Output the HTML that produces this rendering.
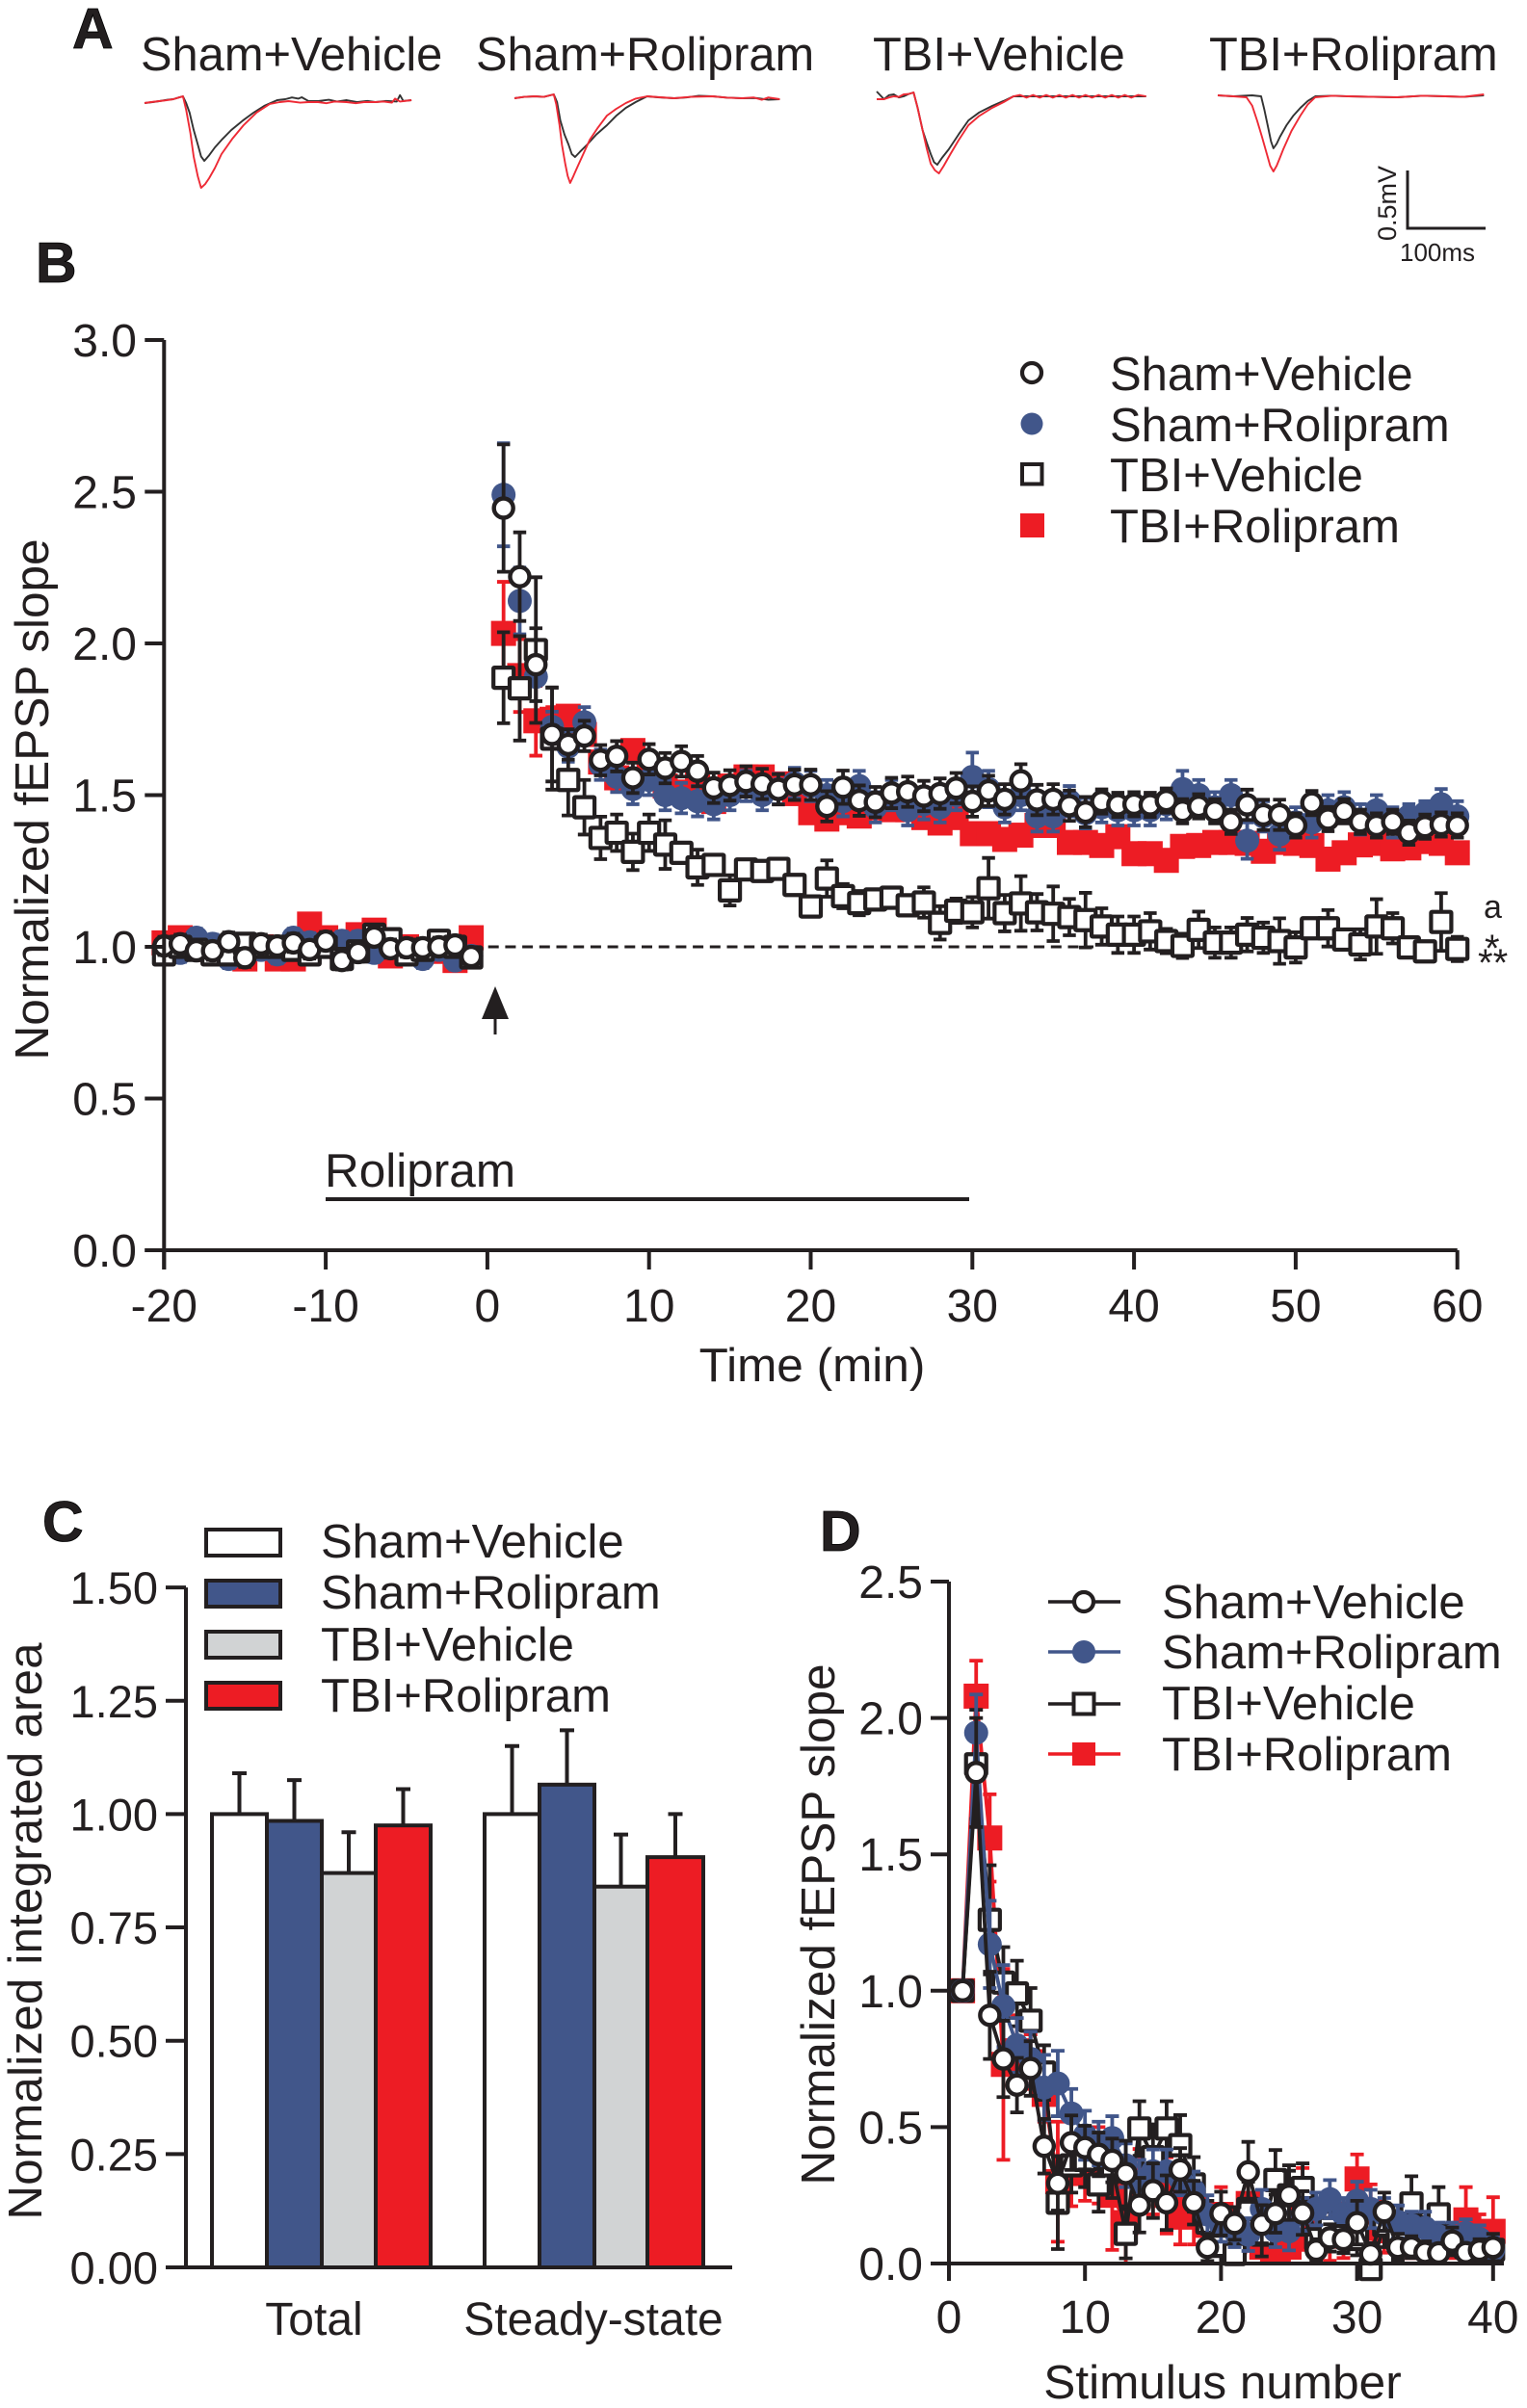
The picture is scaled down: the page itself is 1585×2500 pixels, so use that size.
<!DOCTYPE html>
<html lang="en">
<head>
<meta charset="utf-8">
<title>Rolipram effect on fEPSP slope</title>
<style>
html,body{margin:0;padding:0;background:#fff;}
svg{display:block;}
text{font-family:"Liberation Sans",Arial,sans-serif;fill:#231f20;}
</style>
</head>
<body>
<svg id="figure" xmlns="http://www.w3.org/2000/svg" width="1585" height="2500" viewBox="0 0 1585 2500">
<rect width="1585" height="2500" fill="#fff"/>

<g id="panel-a">
<text x="75" y="50" font-size="59" font-weight="bold" stroke="#000" stroke-width="0.8">A</text>
<text x="146" y="73" font-size="48.8">Sham+Vehicle</text>
<text x="494" y="73" font-size="48.8">Sham+Rolipram</text>
<text x="906" y="73" font-size="48.8">TBI+Vehicle</text>
<text x="1255" y="73" font-size="48.8">TBI+Rolipram</text>
<path d="M1461 177V237H1542" fill="none" stroke="#231f20" stroke-width="3"/>
<text transform="translate(1449,250) rotate(-90)" font-size="27">0.5mV</text>
<text x="1453" y="271" font-size="26">100ms</text>
</g>

<g id="panel-b">
<text x="37" y="293" font-size="59" font-weight="bold" stroke="#000" stroke-width="0.8">B</text>
<text transform="translate(50,830) rotate(-90)" text-anchor="middle" font-size="49.5">Normalized fEPSP slope</text>
<text x="843" y="1434" text-anchor="middle" font-size="49.5">Time (min)</text>
<line x1="489" y1="983" x2="1135" y2="983" stroke="#231f20" stroke-width="3" stroke-dasharray="11 6.7"/>
<polygon points="514,1024 528,1058 500,1058" fill="#231f20"/>
<line x1="514" y1="1056" x2="514" y2="1074" stroke="#231f20" stroke-width="3"/>
<text x="337" y="1232" font-size="49.5">Rolipram</text>
<line x1="338" y1="1245" x2="1006" y2="1245" stroke="#231f20" stroke-width="4"/>
<text x="1540" y="953" font-size="34">a</text>
<text x="1541" y="998" font-size="40">*</text>
<text x="1534" y="1013" font-size="40">**</text>
<circle cx="1071" cy="387" r="10" fill="#fff" stroke="#231f20" stroke-width="4.2"/>
<circle cx="1071" cy="440" r="11.5" fill="#41568a"/>
<rect x="1061" y="482" width="20.5" height="20.5" fill="#fff" stroke="#231f20" stroke-width="4"/>
<rect x="1059" y="533" width="25" height="25" fill="#ed1c24"/>
<text x="1152" y="405" font-size="49">Sham+Vehicle</text>
<text x="1152" y="458" font-size="49">Sham+Rolipram</text>
<text x="1152" y="510" font-size="49">TBI+Vehicle</text>
<text x="1152" y="563" font-size="49">TBI+Rolipram</text>
</g>

<g id="panel-c">
<text x="44" y="1600" font-size="59" font-weight="bold" stroke="#000" stroke-width="0.8">C</text>
<text transform="translate(43,2005) rotate(-90)" text-anchor="middle" font-size="49" textLength="599">Normalized integrated area</text>
<rect x="214" y="1588" width="77" height="27" fill="#fff" stroke="#231f20" stroke-width="4"/>
<rect x="214" y="1641" width="77" height="27" fill="#41568a" stroke="#231f20" stroke-width="4"/>
<rect x="214" y="1694" width="77" height="27" fill="#d1d3d4" stroke="#231f20" stroke-width="4"/>
<rect x="214" y="1747" width="77" height="27" fill="#ed1c24" stroke="#231f20" stroke-width="4"/>
<text x="333" y="1617" font-size="49">Sham+Vehicle</text>
<text x="333" y="1670" font-size="49">Sham+Rolipram</text>
<text x="333" y="1724" font-size="49">TBI+Vehicle</text>
<text x="333" y="1777" font-size="49">TBI+Rolipram</text>
</g>

<g id="panel-d">
<text x="851" y="1610" font-size="59" font-weight="bold" stroke="#000" stroke-width="0.8">D</text>
<text transform="translate(866,1998) rotate(-90)" text-anchor="middle" font-size="49.5">Normalized fEPSP slope</text>
<text x="1269" y="2490" text-anchor="middle" font-size="49.5">Stimulus number</text>
<line x1="1088" y1="1663" x2="1163" y2="1663" stroke="#231f20" stroke-width="3.5"/>
<circle cx="1125" cy="1663" r="10" fill="#fff" stroke="#231f20" stroke-width="4.2"/>
<line x1="1088" y1="1715" x2="1163" y2="1715" stroke="#41568a" stroke-width="3.5"/>
<circle cx="1125" cy="1715" r="12" fill="#41568a"/>
<line x1="1088" y1="1769" x2="1163" y2="1769" stroke="#231f20" stroke-width="3.5"/>
<rect x="1114.5" y="1758.5" width="21" height="21" fill="#fff" stroke="#231f20" stroke-width="4"/>
<line x1="1088" y1="1821" x2="1163" y2="1821" stroke="#ed1c24" stroke-width="3.5"/>
<rect x="1113" y="1809" width="24" height="24" fill="#ed1c24"/>
<text x="1206" y="1680" font-size="49">Sham+Vehicle</text>
<text x="1206" y="1732" font-size="49">Sham+Rolipram</text>
<text x="1206" y="1785" font-size="49">TBI+Vehicle</text>
<text x="1206" y="1838" font-size="49">TBI+Rolipram</text>
</g>
</svg>

<script>
// ---------- Panel A data: time (ms) and amplitude (mV) of each evoked trace ----------
const trace1Time = [0,10,18,28,35,42,47,51,55,60,65,69,73,79,86,95,106,120,133,147,162,172,180,188,192,200,212,225,235,247,260,272,282,295,308,312,316,326];
const trace1Ctrl = [-.058,-.05,-.042,-.03,-.025,-.01,0,-.06,-.142,-.29,-.417,-.52,-.558,-.51,-.442,-.37,-.292,-.21,-.142,-.08,-.033,-.025,-.01,-.02,-.008,-.04,-.042,-.03,-.045,-.033,-.05,-.04,-.05,-.04,-.045,.01,-.04,-.033];
const trace1RedTime = [0,8,18,26,35,42,47,51,56,60,65,69,74,79,86,94,107,121,137,153,165,176,190,200,212,222,232,247,258,268,282,292,302,306,312,326];
const trace1Red = [-.058,-.05,-.042,-.035,-.025,-.01,0,-.12,-.317,-.52,-.692,-.792,-.76,-.708,-.62,-.5,-.37,-.25,-.14,-.067,-.05,-.042,-.055,-.05,-.05,-.06,-.045,-.05,-.06,-.05,-.05,-.045,-.055,-.02,-.045,-.033];
const trace2Time = [0,12,25,36,48,52,56,61,66,70,74,80,89,100,113,124,136,148,162,175,195,210,225,242,260,278,296,310,324];
const trace2Ctrl = [-.017,-.005,0,-.005,.017,-.05,-.208,-.33,-.417,-.5,-.525,-.48,-.417,-.33,-.25,-.17,-.1,-.05,0,-.008,-.017,-.01,.005,0,-.012,-.017,-.015,-.03,-.025];
const trace2RedTime = [0,12,25,36,48,51,55,58,62,65,68,72,76,84,92,102,113,124,136,148,162,178,195,215,242,260,278,292,302,310,324];
const trace2Red = [-.017,-.005,0,-.005,.017,-.07,-.25,-.42,-.583,-.69,-.75,-.69,-.625,-.5,-.375,-.27,-.167,-.11,-.058,-.02,0,-.008,-.017,-.005,0,-.012,-.017,-.01,-.03,-.01,-.025];
const trace3Time = [0,9,15,21,27,33,39,45,50,56,61,66,70,74,80,88,100,112,125,141,155,167,329];
const trace3Ctrl = [.042,-.025,.01,.017,-.01,0,.02,.033,-.1,-.292,-.4,-.5,-.57,-.592,-.53,-.458,-.33,-.208,-.14,-.083,-.04,0,0];
const trace3RedTime = [0,9,15,21,27,33,39,45,50,56,61,66,71,76,82,90,100,112,125,141,155,167,175,183,191,199,207,215,223,231,239,247,255,263,271,279,287,295,303,311,319,329];
const trace3Red = [-.025,-.025,-.01,0,-.005,.017,.02,.033,-.1,-.292,-.45,-.583,-.64,-.667,-.6,-.5,-.38,-.25,-.17,-.1,-.05,0,.012,-.012,.012,-.012,.012,-.012,.012,-.012,.012,-.012,.012,-.012,.012,-.012,.012,-.012,.012,-.012,.012,0];
const trace4Time = [0,19,42,53,57,61,65,68,72,76,84,92,101,110,119,140,160,190,219,250,278,300,325];
const trace4Ctrl = [.008,0,.008,0,-.12,-.25,-.39,-.45,-.41,-.35,-.25,-.17,-.1,-.04,0,.005,0,-.005,-.008,.005,0,-.005,.008];
const trace4RedTime = [0,19,35,42,48,54,60,64,68,72,76,80,90,101,110,119,140,160,190,219,250,278,300,325];
const trace4Red = [.008,0,-.008,-.08,-.208,-.35,-.5,-.6,-.65,-.6,-.53,-.458,-.3,-.167,-.07,-.008,.005,0,-.005,-.008,.005,0,-.005,.017];

// ---------- Panel B data: index 0-19 are t=-20..-1 min, index 20-79 are t=1..60 min ----------
const bTicksX = [-20,-10,0,10,20,30,40,50,60];
const bTicksY = ["0.0","0.5","1.0","1.5","2.0","2.5","3.0"];
const bShamVehicle = [1.003,1.010,.987,.987,1.017,.964,1.010,1.003,1.013,.991,1.019,.955,.981,1.032,.994,.997,.997,1.0,1.006,.968,
2.446,2.22,1.93,1.70,1.667,1.695,1.615,1.628,1.557,1.618,1.589,1.611,1.579,1.524,1.532,1.545,1.537,1.519,1.534,1.534,
1.463,1.526,1.482,1.477,1.507,1.511,1.497,1.505,1.523,1.479,1.514,1.486,1.547,1.484,1.486,1.465,1.444,1.479,1.468,1.470,
1.468,1.482,1.447,1.463,1.447,1.412,1.468,1.435,1.435,1.400,1.474,1.421,1.447,1.412,1.400,1.412,1.376,1.396,1.403,1.400];
const bShamVehicleErr = [.03,.03,.03,.03,.03,.03,.03,.03,.03,.03,.03,.03,.03,.03,.03,.03,.03,.03,.03,.03,
.21,.146,.12,.155,.05,.05,.05,.05,.05,.05,.05,.05,.05,.05,.05,.05,.05,.05,.05,.05,
.05,.055,.05,.05,.05,.05,.05,.05,.05,.05,.05,.05,.055,.05,.05,.05,.05,.04,.04,.04,
.04,.04,.04,.04,.04,.04,.05,.05,.05,.04,.04,.04,.04,.04,.04,.04,.04,.04,.04,.04];
const bShamRolipram = [.99,.98,1.03,1.01,.96,1.0,.99,.975,1.03,1.015,1.0,1.02,1.02,.98,1.0,.99,.96,.99,.955,.97,
2.49,2.14,1.89,1.725,1.66,1.74,1.60,1.56,1.52,1.55,1.50,1.49,1.48,1.47,1.50,1.53,1.50,1.52,1.54,1.53,
1.50,1.48,1.53,1.46,1.50,1.45,1.47,1.46,1.50,1.56,1.52,1.46,1.50,1.43,1.43,1.48,1.44,1.46,1.45,1.45,
1.45,1.47,1.52,1.50,1.46,1.50,1.35,1.43,1.37,1.41,1.41,1.45,1.46,1.42,1.45,1.41,1.43,1.44,1.47,1.43];
const bShamRolipramErr = [.03,.03,.03,.03,.03,.03,.03,.03,.03,.03,.03,.03,.03,.03,.03,.03,.03,.03,.03,.03,
.17,.11,.08,.05,.05,.05,.05,.05,.05,.05,.05,.05,.05,.05,.05,.05,.05,.05,.05,.05,
.05,.05,.05,.05,.05,.05,.05,.05,.05,.08,.06,.05,.05,.05,.05,.05,.05,.05,.05,.05,
.05,.05,.06,.05,.05,.05,.06,.05,.05,.05,.05,.05,.05,.05,.05,.05,.04,.04,.05,.05];
const bTbiVehicle = [.975,1.0,.99,.975,.975,1.01,1.0,1.0,.99,.975,1.0,.96,.985,1.04,1.025,.975,.99,1.02,1.0,.965,
1.887,1.852,1.978,1.686,1.55,1.46,1.359,1.376,1.313,1.376,1.337,1.31,1.262,1.27,1.186,1.255,1.25,1.257,1.204,1.133,
1.225,1.167,1.144,1.156,1.162,1.137,1.146,1.079,1.119,1.114,1.193,1.111,1.143,1.114,1.109,1.098,1.088,1.067,1.04,1.04,
1.051,1.019,1.003,1.056,1.014,1.014,1.04,1.03,1.019,.998,1.061,1.061,1.024,1.008,1.067,1.061,.998,.985,1.082,.993];
const bTbiVehicleErr = [.02,.02,.02,.02,.02,.02,.02,.02,.02,.02,.02,.02,.02,.02,.02,.02,.02,.02,.02,.02,
.15,.172,.24,.168,.117,.09,.07,.06,.06,.06,.08,.03,.058,.03,.05,.03,.03,.03,.03,.03,
.06,.04,.04,.03,.03,.03,.05,.055,.04,.05,.10,.06,.09,.06,.09,.06,.09,.06,.06,.06,
.06,.04,.04,.06,.05,.05,.055,.05,.075,.05,.03,.06,.03,.05,.09,.05,.03,.03,.095,.04];
const bTbiRolipram = [1.013,1.03,1.0,.99,1.0,.96,1.0,.96,.96,1.075,1.03,1.0,1.04,1.055,.97,1.0,.99,.985,.955,1.03,
2.033,1.894,1.745,1.75,1.76,1.70,1.609,1.557,1.647,1.58,1.53,1.51,1.537,1.479,1.53,1.56,1.56,1.537,1.505,1.442,
1.421,1.442,1.431,1.458,1.452,1.452,1.426,1.408,1.426,1.373,1.373,1.354,1.368,1.40,1.40,1.344,1.344,1.334,1.363,1.307,
1.307,1.285,1.331,1.334,1.344,1.344,1.341,1.315,1.344,1.341,1.334,1.289,1.31,1.336,1.341,1.323,1.326,1.347,1.341,1.31];
const bTbiRolipramErr = [.02,.02,.02,.02,.02,.02,.02,.02,.02,.02,.02,.02,.02,.02,.02,.02,.02,.02,.02,.02,
.17,.12,.115,.04,.03,.03,.03,.03,.03,.03,.03,.03,.03,.03,.03,.03,.03,.03,.03,.03,
.03,.03,.03,.03,.03,.03,.03,.03,.03,.03,.03,.03,.03,.03,.03,.03,.03,.03,.03,.03,
.03,.03,.03,.03,.03,.03,.03,.03,.03,.03,.03,.03,.03,.03,.03,.03,.03,.03,.03,.03];

// ---------- Panel C data ----------
const cTicksY = ["0.00","0.25","0.50","0.75","1.00","1.25","1.50"];
const cGroups = ["Total","Steady-state"];
const cTotalMeans = [1.0,.985,.87,.975];
const cTotalTops = [1.09,1.075,.96,1.055];
const cSteadyMeans = [1.0,1.065,.84,.905];
const cSteadyTops = [1.15,1.185,.955,1.0];

// ---------- Panel D data: stimulus number 1..40 ----------
const dTicksX = [0,10,20,30,40];
const dTicksY = ["0.0","0.5","1.0","1.5","2.0","2.5"];
const dShamVehicle = [1.0,1.80,.91,.75,.654,.715,.43,.294,.443,.425,.40,.378,.33,.214,.267,.223,.343,.223,.059,.183,.147,.336,.144,.183,.25,.185,.049,.094,.088,.15,.035,.19,.059,.06,.041,.039,.082,.04,.049,.059];
const dShamVehicleErr = [0,.2,.16,.14,.1,.1,.1,.1,.1,.08,.08,.08,.12,.1,.1,.1,.08,.08,.05,.08,.06,.11,.07,.07,.09,.08,.04,.05,.05,.08,.04,.07,.05,.04,.04,.03,.05,.03,.04,.05];
const dShamRolipram = [1.0,1.946,1.17,.944,.80,.75,.645,.66,.55,.47,.44,.46,.36,.30,.338,.338,.31,.267,.18,.14,.12,.106,.20,.12,.118,.18,.20,.236,.18,.23,.20,.18,.153,.14,.13,.10,.10,.112,.09,.05];
const dShamRolipramErr = [0,.14,.16,.15,.1,.1,.12,.12,.09,.09,.08,.08,.08,.08,.08,.08,.06,.07,.07,.06,.06,.06,.07,.06,.07,.06,.06,.07,.06,.07,.07,.06,.06,.05,.06,.05,.05,.05,.05,.05];
const dTbiVehicle = [1.0,1.83,1.26,1.03,.99,.89,.70,.223,.36,.38,.29,.36,.109,.495,.39,.495,.434,.29,.15,.065,.035,.20,.106,.306,.25,.277,.09,.13,.10,.09,-.02,.14,.10,.22,.10,.18,.08,.06,.05,.05];
const dTbiVehicleErr = [0,.2,.2,.13,.12,.12,.1,.17,.1,.1,.1,.12,.09,.1,.12,.1,.11,.1,.08,.08,.09,.1,.08,.11,.11,.09,.05,.06,.06,.06,.05,.08,.08,.1,.07,.1,.05,.04,.03,.03];
const dTbiRolipram = [1.0,2.08,1.56,.73,.78,.74,.62,.30,.33,.35,.36,.25,.15,.32,.30,.25,.17,.20,.14,.18,.08,.22,.06,.05,.06,.20,.12,.10,.12,.31,.19,.12,.10,.08,.07,.06,.08,.16,.10,.118];
const dTbiRolipramErr = [0,.13,.16,.35,.13,.1,.1,.22,.12,.12,.14,.2,.15,.1,.12,.14,.1,.13,.08,.1,.08,.12,.07,.05,.06,.15,.1,.09,.1,.09,.1,.08,.07,.06,.05,.05,.06,.12,.08,.125];

// ---------- Helpers ----------
const NS = "http://www.w3.org/2000/svg";
const INK = "#231f20", BLUE = "#41568a", RED = "#ed1c24", GREY = "#d1d3d4";
function make(tag, parent, attrs) {
  const node = document.createElementNS(NS, tag);
  for (const k in attrs) node.setAttribute(k, attrs[k]);
  parent.appendChild(node);
  return node;
}
const panelA = document.getElementById("panel-a");
const panelB = document.getElementById("panel-b");
const panelC = document.getElementById("panel-c");
const panelD = document.getElementById("panel-d");

// ---------- Axis functions ----------
const axT = { ms: .85, mV: 120 };
const bX = t => 170.3 + (t + 20) * 16.78;
const bY = v => 1298 - v * 315;
const cY = v => 2354 - v * 470.6;
const dX = n => 985 + n * 14.12;
const dY = v => 2350 - v * 283.2;

// ---------- Panel A traces ----------
function drawTrace(origin, base, times, values, color, name) {
  const pts = times.map((t, i) => (origin + t * axT.ms).toFixed(1) + "," + (base - values[i] * axT.mV).toFixed(1));
  const el = make("polyline", panelA, { points: pts.join(" "), fill: "none", stroke: color, "stroke-width": 1.9, "stroke-linejoin": "round" });
  
  
}
drawTrace(150, 100, trace1Time, trace1Ctrl, "#333", "trace-sham-vehicle-baseline");
drawTrace(150, 100, trace1RedTime, trace1Red, "#ee2a35", "trace-sham-vehicle-potentiated");
drawTrace(534, 100, trace2Time, trace2Ctrl, "#333", "trace-sham-rolipram-baseline");
drawTrace(534, 100, trace2RedTime, trace2Red, "#ee2a35", "trace-sham-rolipram-potentiated");
drawTrace(910, 100, trace3Time, trace3Ctrl, "#333", "trace-tbi-vehicle-baseline");
drawTrace(910, 100, trace3RedTime, trace3Red, "#ee2a35", "trace-tbi-vehicle-potentiated");
drawTrace(1264, 100, trace4Time, trace4Ctrl, "#333", "trace-tbi-rolipram-baseline");
drawTrace(1264, 100, trace4RedTime, trace4Red, "#ee2a35", "trace-tbi-rolipram-potentiated");

// ---------- Shared mark drawing ----------
function drawError(parent, x, y1, y2, color, cap, sw, name) {
  const d = "M" + (x - cap / 2) + " " + y1 + "H" + (x + cap / 2) + "M" + x + " " + y1 + "V" + y2 + "M" + (x - cap / 2) + " " + y2 + "H" + (x + cap / 2);
  const el = make("path", parent, { d: d, fill: "none", stroke: color, "stroke-width": sw });
  
  
}
function drawMarker(parent, kind, x, y, name) {
  let el;
  if (kind === "openCircle") el = make("circle", parent, { cx: x, cy: y, r: 10, fill: "#fff", stroke: INK, "stroke-width": 4.4 });
  if (kind === "blueCircle") el = make("circle", parent, { cx: x, cy: y, r: 12.5, fill: BLUE });
  if (kind === "openSquare") el = make("rect", parent, { x: x - 10.5, y: y - 10.5, width: 21, height: 21, rx: 1, fill: "#fff", stroke: INK, "stroke-width": 4.2 });
  if (kind === "redSquare") el = make("rect", parent, { x: x - 13, y: y - 13, width: 26, height: 26, fill: RED });
  
  
}

// ---------- Panel B ----------
const bTime = i => (i < 20 ? i - 20 : i - 19);
function drawSeriesB(values, errs, color, kind, name) {
  const g = make("g", panelB, {});
  
  
  values.forEach((v, i) => {
    drawError(g, bX(bTime(i)), bY(v + errs[i]), bY(v - errs[i]), color, 13.5, 3.8, name + "-error");
  });
  values.forEach((v, i) => {
    drawMarker(g, kind, bX(bTime(i)), bY(v), name + "-point");
  });
}
drawSeriesB(bTbiRolipram, bTbiRolipramErr, RED, "redSquare", "series-b-tbi-rolipram");
drawSeriesB(bShamRolipram, bShamRolipramErr, BLUE, "blueCircle", "series-b-sham-rolipram");
drawSeriesB(bTbiVehicle, bTbiVehicleErr, INK, "openSquare", "series-b-tbi-vehicle");
drawSeriesB(bShamVehicle, bShamVehicleErr, INK, "openCircle", "series-b-sham-vehicle");

const bAxis = make("path", panelB, { d: "M" + bX(-20) + " " + bY(3) + "V" + (bY(0) + 20) + "M" + (bX(-20) - 20) + " " + bY(0) + "H" + bX(60), fill: "none", stroke: INK, "stroke-width": 4 });


bTicksX.forEach(t => {
  const tick = make("line", panelB, { x1: bX(t), x2: bX(t), y1: bY(0), y2: bY(0) + 20, stroke: INK, "stroke-width": 4 });
  
  
  const label = make("text", panelB, { x: bX(t), y: 1372, "text-anchor": "middle", "font-size": 48 });
  label.textContent = String(t);
  
  
});
bTicksY.forEach(s => {
  const v = parseFloat(s);
  const tick = make("line", panelB, { x1: bX(-20) - 20, x2: bX(-20), y1: bY(v), y2: bY(v), stroke: INK, "stroke-width": 4 });
  
  
  const label = make("text", panelB, { x: 142, y: bY(v) + 17, "text-anchor": "end", "font-size": 48 });
  label.textContent = s;
  
  
});

// ---------- Panel C ----------
const cBarEdges = [[220,277,334,390,447],[503,560,617,672,730]];
const cFills = ["#fff", BLUE, GREY, RED];
const cBarNames = ["sham-vehicle","sham-rolipram","tbi-vehicle","tbi-rolipram"];
[[cTotalMeans, cTotalTops],[cSteadyMeans, cSteadyTops]].forEach((set, g) => {
  set[0].forEach((v, i) => {
    const left = cBarEdges[g][i], right = cBarEdges[g][i + 1], mid = (left + right) / 2;
    const err = make("path", panelC, { d: "M" + mid + " " + cY(v) + "V" + cY(set[1][i]) + "M" + (mid - 7.5) + " " + cY(set[1][i]) + "H" + (mid + 7.5), fill: "none", stroke: INK, "stroke-width": 4 });
    
    
    const bar = make("rect", panelC, { x: left, y: cY(v), width: right - left, height: cY(0) - cY(v), fill: cFills[i], stroke: INK, "stroke-width": 4 });
    
    
  });
});
const cAxis = make("path", panelC, { d: "M193 " + cY(1.5) + "V" + cY(0) + "M172 " + cY(0) + "H760", fill: "none", stroke: INK, "stroke-width": 4 });


cTicksY.forEach(s => {
  const v = parseFloat(s);
  const tick = make("line", panelC, { x1: 172, x2: 193, y1: cY(v), y2: cY(v), stroke: INK, "stroke-width": 4 });
  
  
  const label = make("text", panelC, { x: 164, y: cY(v) + 17, "text-anchor": "end", "font-size": 47 });
  label.textContent = s;
  
  
});
[326, 616].forEach((x, g) => {
  const label = make("text", panelC, { x: x, y: 2424, "text-anchor": "middle", "font-size": 48 });
  label.textContent = cGroups[g];
  
  
});

// ---------- Panel D ----------
function drawSeriesD(values, errs, color, kind, name) {
  const g = make("g", panelD, {});
  
  
  const line = make("polyline", g, { points: values.map((v, i) => dX(i + 1) + "," + dY(v)).join(" "), fill: "none", stroke: color, "stroke-width": 3.8 });
  
  
  values.forEach((v, i) => {
    const low = Math.max(v - errs[i], 0);
    drawError(g, dX(i + 1), dY(v + errs[i]), dY(low), color, 14, 3.8, name + "-error");
  });
  values.forEach((v, i) => {
    drawMarker(g, kind, dX(i + 1), dY(v), name + "-point");
  });
}
drawSeriesD(dTbiRolipram, dTbiRolipramErr, RED, "redSquare", "series-d-tbi-rolipram");
drawSeriesD(dTbiVehicle, dTbiVehicleErr, INK, "openSquare", "series-d-tbi-vehicle");
drawSeriesD(dShamRolipram, dShamRolipramErr, BLUE, "blueCircle", "series-d-sham-rolipram");
drawSeriesD(dShamVehicle, dShamVehicleErr, INK, "openCircle", "series-d-sham-vehicle");

const dAxis = make("path", panelD, { d: "M985 " + dY(2.5) + "V" + (dY(0) + 18) + "M966 " + dY(0) + "H1561", fill: "none", stroke: INK, "stroke-width": 4 });


dTicksX.forEach(n => {
  const tick = make("line", panelD, { x1: dX(n), x2: dX(n), y1: dY(0), y2: dY(0) + 18, stroke: INK, "stroke-width": 4 });
  
  
  const label = make("text", panelD, { x: dX(n), y: 2422, "text-anchor": "middle", "font-size": 48 });
  label.textContent = String(n);
  
  
});
dTicksY.forEach(s => {
  const v = parseFloat(s);
  const tick = make("line", panelD, { x1: 966, x2: 985, y1: dY(v), y2: dY(v), stroke: INK, "stroke-width": 4 });
  
  
  const label = make("text", panelD, { x: 958, y: dY(v) + 17, "text-anchor": "end", "font-size": 48 });
  label.textContent = s;
  
  
});
</script>
</body>
</html>
